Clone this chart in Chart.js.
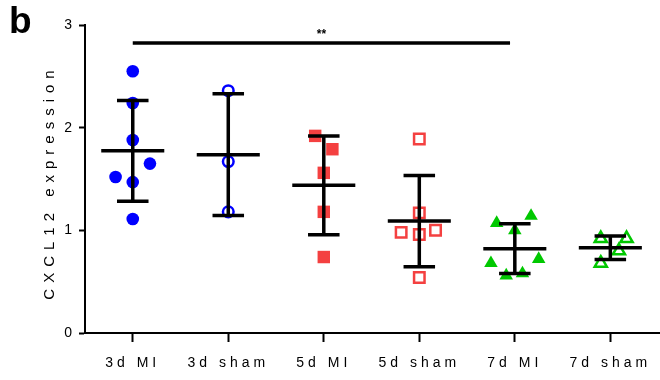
<!DOCTYPE html>
<html>
<head>
<meta charset="utf-8">
<script src="https://cdn.jsdelivr.net/npm/chart.js@4.4.0/dist/chart.umd.min.js"></script>
<style>
  html, body { margin: 0; padding: 0; background: #fff; }
  #wrap { width: 660px; height: 380px; }
</style>
</head>
<body>
<div id="wrap"><canvas id="cxclChart"></canvas></div>
<script>
const groupLabels = ['3d MI', '3d sham', '5d MI', '5d sham', '7d MI', '7d sham'];
const yTicks = [0, 1, 2, 3];

// CXCL12 expression per animal
const mi3d   = [2.55, 2.24, 1.88, 1.65, 1.52, 1.47, 1.11];
const sham3d = [2.36, 1.67, 1.18];
const mi5d   = [1.92, 1.79, 1.56, 1.18, 0.74];
const sham5d = [1.89, 1.17, 0.98, 0.96, 1.00, 0.54];
const mi7d   = [1.07, 1.00, 1.14, 0.68, 0.72, 0.56, 0.58];
const sham7d = [0.92, 0.92, 0.80, 0.68];

// sideways spread of the dots inside a column (category units)
const spread3dMI   = [0, 0, 0, 0.18, -0.18, 0, 0];
const spread3dSham = [0, 0, 0];
const spread5dMI   = [-0.09, 0.09, 0, 0, 0];
const spread5dSham = [0, 0, -0.19, 0, 0.17, 0];
const spread7dMI   = [-0.19, 0, 0.17, -0.25, 0.25, -0.09, 0.08];
const spread7dSham = [-0.1, 0.17, 0.09, -0.1];

// significance bracket: 3d MI vs 7d MI
const sigFrom = 0;
const sigTo = 3.95;
const sigLevel = 2.825;
const sigText = '**';

const blue = '#0000ff';
const red = '#f44040';
const green = '#00c800';

const groups = [
    { values: mi3d,   spread: spread3dMI,   style: 'circle',   radius: 6.3, color: blue,  open: false },
    { values: sham3d, spread: spread3dSham, style: 'circle',   radius: 5.3, color: blue,  open: true },
    { values: mi5d,   spread: spread5dMI,   style: 'rect',     radius: 8.8, color: red,   open: false },
    { values: sham5d, spread: spread5dSham, style: 'rect',     radius: 7.4, color: red,   open: true },
    { values: mi7d,   spread: spread7dMI,   style: 'triangle', radius: 7.8, color: green, open: false },
    { values: sham7d, spread: spread7dSham, style: 'triangle', radius: 7.0, color: green, open: true }
];

function mean(arr) {
    return arr.reduce((s, v) => s + v, 0) / arr.length;
}

function sd(arr) {
    const m = mean(arr);
    return Math.sqrt(arr.reduce((s, v) => s + (v - m) * (v - m), 0) / (arr.length - 1));
}

const datasets = [];

// mean +/- SD bars, drawn on top of the dots
groups.forEach((g, i) => {
    const m = mean(g.values);
    const s = sd(g.values);
    datasets.push({
        type: 'scatter',
        showLine: true,
        data: [
            { x: i - 0.33, y: m }, { x: i + 0.33, y: m }, { x: i, y: null },
            { x: i - 0.165, y: m + s }, { x: i + 0.165, y: m + s }, { x: i, y: null },
            { x: i - 0.165, y: m - s }, { x: i + 0.165, y: m - s }, { x: i, y: null },
            { x: i, y: m - s }, { x: i, y: m + s }
        ],
        borderColor: '#000',
        borderWidth: 3.5,
        borderCapStyle: 'butt',
        pointRadius: 0,
        spanGaps: false,
        order: 0
    });
});

datasets.push({
    type: 'scatter',
    showLine: true,
    data: [{ x: sigFrom, y: sigLevel }, { x: sigTo, y: sigLevel }],
    borderColor: '#000',
    borderWidth: 3.5,
    borderCapStyle: 'butt',
    pointRadius: 0,
    order: 0
});

groups.forEach((g, i) => {
    datasets.push({
        type: 'scatter',
        data: g.values.map((v, k) => ({ x: i + g.spread[k], y: v })),
        pointStyle: g.style,
        pointRadius: g.radius,
        pointHoverRadius: g.radius,
        backgroundColor: g.open ? 'rgba(0,0,0,0)' : g.color,
        borderColor: g.color,
        borderWidth: g.open ? 2.5 : 0,
        order: 1
    });
});

const annotations = {
    id: 'annotations',
    beforeDraw(chart) {
        chart.ctx.letterSpacing = '4px';
    },
    afterDraw(chart) {
        const ctx = chart.ctx;
        const xs = chart.scales.x;
        const ys = chart.scales.y;
        ctx.save();
        ctx.letterSpacing = '0px';
        ctx.fillStyle = '#000';

        // panel letter
        ctx.font = 'bold 37px Arial, "Liberation Sans", sans-serif';
        ctx.textAlign = 'left';
        ctx.textBaseline = 'alphabetic';
        ctx.fillText('b', 9, 33);

        // stars over the bracket
        ctx.font = 'bold 12px Arial, "Liberation Sans", sans-serif';
        ctx.textAlign = 'center';
        ctx.fillText(sigText, xs.getPixelForValue((sigFrom + sigTo) / 2), ys.getPixelForValue(sigLevel) - 5);

        // y axis title
        ctx.translate(50, (chart.chartArea.top + chart.chartArea.bottom) / 2 + 3);
        ctx.rotate(-Math.PI / 2);
        ctx.font = '15px Arial, "Liberation Sans", sans-serif';
        ctx.letterSpacing = '6px';
        ctx.textBaseline = 'middle';
        ctx.fillText('CXCL12 expression', 0, 0);
        ctx.restore();
    }
};

new Chart(document.getElementById('cxclChart').getContext('2d'), {
    type: 'scatter',
    data: { datasets: datasets },
    options: {
        responsive: true,
        maintainAspectRatio: false,
        animation: false,
        events: [],
        layout: {
            autoPadding: false,
            padding: { top: 25, right: 0, bottom: 0, left: 0 }
        },
        plugins: {
            legend: { display: false },
            tooltip: { enabled: false }
        },
        scales: {
            x: {
                type: 'linear',
                min: -0.5,
                max: 5.52,
                afterBuildTicks: (scale) => {
                    scale.ticks = groupLabels.map((_, i) => ({ value: i }));
                },
                afterFit: (scale) => {
                    scale.height = 47;
                    scale.paddingLeft = 0;
                    scale.paddingRight = 0;
                },
                ticks: {
                    callback: (v) => groupLabels[v],
                    color: '#000',
                    font: { family: 'Arial, "Liberation Sans", sans-serif', size: 14 },
                    padding: 13,
                    maxRotation: 0,
                    autoSkip: false
                },
                grid: {
                    drawOnChartArea: false,
                    tickLength: 9,
                    tickWidth: 2,
                    tickColor: '#000'
                },
                border: { color: '#000', width: 2 }
            },
            y: {
                min: 0,
                max: 3,
                afterBuildTicks: (scale) => {
                    scale.ticks = yTicks.map(v => ({ value: v }));
                },
                afterFit: (scale) => {
                    scale.width = 85;
                    scale.paddingTop = 0;
                    scale.paddingBottom = 0;
                },
                ticks: {
                    color: '#000',
                    font: { family: 'Arial, "Liberation Sans", sans-serif', size: 14 },
                    padding: 3
                },
                grid: {
                    drawOnChartArea: false,
                    tickLength: 6,
                    tickWidth: 2,
                    tickColor: '#000'
                },
                border: { color: '#000', width: 2 }
            }
        }
    },
    plugins: [annotations]
});
</script>
</body>
</html>
